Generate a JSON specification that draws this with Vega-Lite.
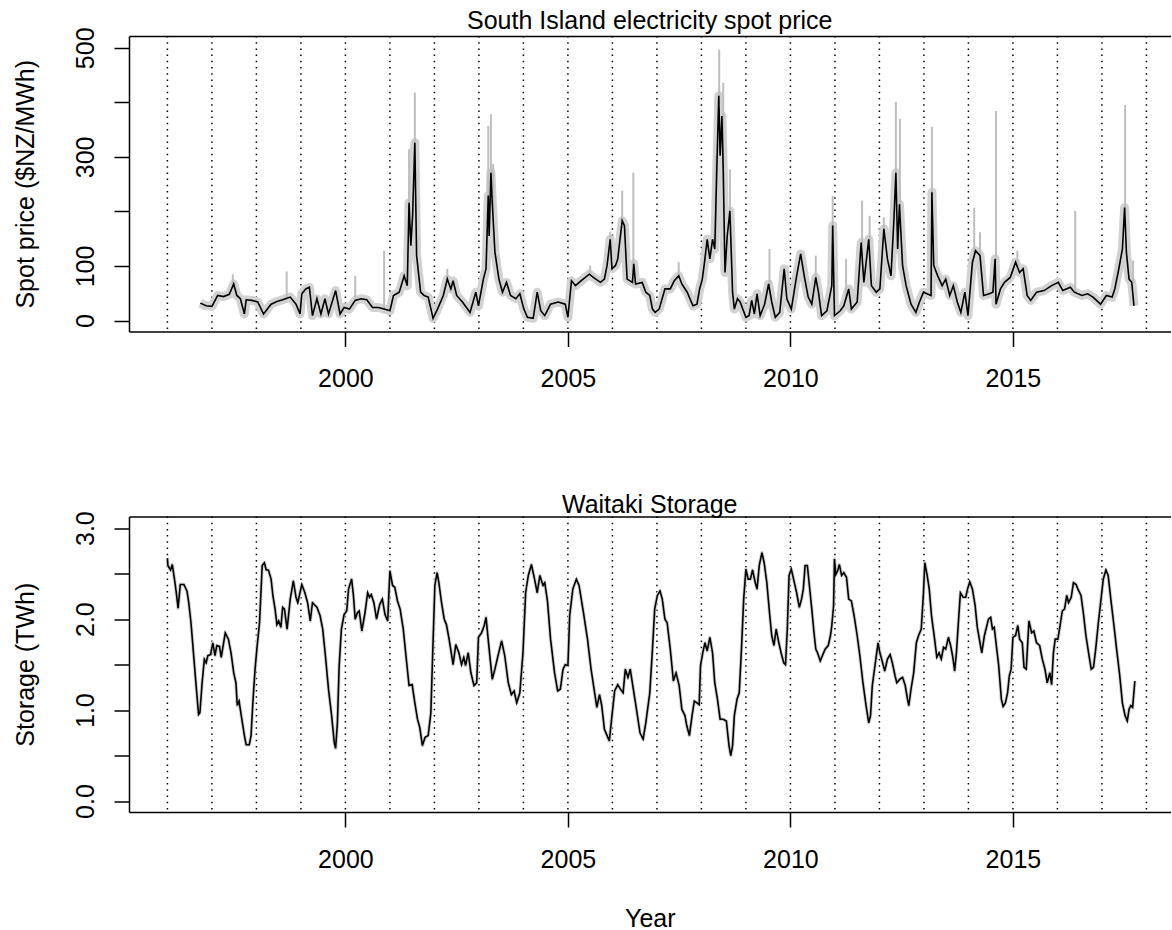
{
  "$schema": "https://vega.github.io/schema/vega-lite/v6.json",
  "autosize": {"type": "pad"},
  "padding": {"left": 13, "top": 8, "right": 0, "bottom": 0},
  "background": "white",
  "config": {
    "view": {"stroke": null},
    "font": "Liberation Sans",
    "title": {"font": "Liberation Sans", "fontSize": 25, "fontWeight": "normal", "color": "black", "anchor": "middle", "frame": "group", "offset": -7, "baseline": "alphabetic"},
    "axis": {
      "labelFont": "Liberation Sans", "titleFont": "Liberation Sans",
      "labelFontSize": 25, "titleFontSize": 25, "titleFontWeight": "normal",
      "labelColor": "black", "titleColor": "black",
      "domainColor": "black", "tickColor": "black", "domainWidth": 1.5, "tickWidth": 1.5,
      "tickSize": 15, "grid": false, "labelOverlap": false, "labelFlush": false, "labelBound": false
    }
  },
  "datasets": {
    "years": [
      {"year": 1996}, {"year": 1997}, {"year": 1998}, {"year": 1999}, {"year": 2000}, {"year": 2001},
      {"year": 2002}, {"year": 2003}, {"year": 2004}, {"year": 2005}, {"year": 2006}, {"year": 2007},
      {"year": 2008}, {"year": 2009}, {"year": 2010}, {"year": 2011}, {"year": 2012}, {"year": 2013},
      {"year": 2014}, {"year": 2015}, {"year": 2016}, {"year": 2017}, {"year": 2018}
    ],
    "price": [
      {"year": 1996.74, "price": 32}, {"year": 1996.87, "price": 27}, {"year": 1997.00, "price": 26},
      {"year": 1997.13, "price": 46}, {"year": 1997.26, "price": 44}, {"year": 1997.39, "price": 48},
      {"year": 1997.49, "price": 67}, {"year": 1997.56, "price": 46}, {"year": 1997.64, "price": 40},
      {"year": 1997.73, "price": 12}, {"year": 1997.77, "price": 38}, {"year": 1997.90, "price": 37},
      {"year": 1998.03, "price": 34}, {"year": 1998.16, "price": 12}, {"year": 1998.33, "price": 30},
      {"year": 1998.46, "price": 35}, {"year": 1998.59, "price": 38}, {"year": 1998.76, "price": 43},
      {"year": 1998.89, "price": 30}, {"year": 1998.98, "price": 12}, {"year": 1999.02, "price": 49},
      {"year": 1999.11, "price": 58}, {"year": 1999.19, "price": 61}, {"year": 1999.26, "price": 9},
      {"year": 1999.36, "price": 40}, {"year": 1999.45, "price": 12}, {"year": 1999.54, "price": 40},
      {"year": 1999.62, "price": 12}, {"year": 1999.78, "price": 55}, {"year": 1999.88, "price": 12},
      {"year": 1999.97, "price": 24}, {"year": 2000.09, "price": 21}, {"year": 2000.22, "price": 37},
      {"year": 2000.35, "price": 40}, {"year": 2000.48, "price": 38}, {"year": 2000.61, "price": 24},
      {"year": 2000.74, "price": 24}, {"year": 2000.87, "price": 21}, {"year": 2001.00, "price": 18},
      {"year": 2001.08, "price": 46}, {"year": 2001.21, "price": 52}, {"year": 2001.32, "price": 82},
      {"year": 2001.39, "price": 64}, {"year": 2001.43, "price": 216}, {"year": 2001.47, "price": 137},
      {"year": 2001.51, "price": 192}, {"year": 2001.56, "price": 326}, {"year": 2001.60, "price": 119},
      {"year": 2001.69, "price": 52}, {"year": 2001.77, "price": 46}, {"year": 2001.86, "price": 43},
      {"year": 2001.97, "price": 4}, {"year": 2002.07, "price": 21}, {"year": 2002.20, "price": 46},
      {"year": 2002.29, "price": 76}, {"year": 2002.37, "price": 58}, {"year": 2002.42, "price": 73},
      {"year": 2002.50, "price": 46}, {"year": 2002.63, "price": 34}, {"year": 2002.80, "price": 15},
      {"year": 2002.93, "price": 52}, {"year": 2002.99, "price": 27}, {"year": 2003.10, "price": 76},
      {"year": 2003.16, "price": 95}, {"year": 2003.21, "price": 229}, {"year": 2003.23, "price": 155},
      {"year": 2003.27, "price": 271}, {"year": 2003.30, "price": 216}, {"year": 2003.36, "price": 125},
      {"year": 2003.45, "price": 76}, {"year": 2003.53, "price": 52}, {"year": 2003.62, "price": 70},
      {"year": 2003.71, "price": 46}, {"year": 2003.83, "price": 40}, {"year": 2003.92, "price": 49},
      {"year": 2004.01, "price": 21}, {"year": 2004.09, "price": 6}, {"year": 2004.22, "price": 4},
      {"year": 2004.31, "price": 52}, {"year": 2004.39, "price": 18}, {"year": 2004.48, "price": 9},
      {"year": 2004.61, "price": 30}, {"year": 2004.78, "price": 34}, {"year": 2004.94, "price": 30},
      {"year": 2005.00, "price": 6}, {"year": 2005.08, "price": 73}, {"year": 2005.17, "price": 64},
      {"year": 2005.30, "price": 73}, {"year": 2005.48, "price": 85}, {"year": 2005.61, "price": 77},
      {"year": 2005.73, "price": 70}, {"year": 2005.82, "price": 76}, {"year": 2005.88, "price": 101},
      {"year": 2005.95, "price": 149}, {"year": 2005.99, "price": 95}, {"year": 2006.07, "price": 101},
      {"year": 2006.12, "price": 113}, {"year": 2006.22, "price": 183}, {"year": 2006.27, "price": 174},
      {"year": 2006.33, "price": 76}, {"year": 2006.45, "price": 70}, {"year": 2006.48, "price": 104},
      {"year": 2006.52, "price": 67}, {"year": 2006.67, "price": 70}, {"year": 2006.75, "price": 52},
      {"year": 2006.84, "price": 46}, {"year": 2006.90, "price": 21}, {"year": 2006.96, "price": 15},
      {"year": 2007.05, "price": 21}, {"year": 2007.18, "price": 58}, {"year": 2007.30, "price": 58},
      {"year": 2007.39, "price": 73}, {"year": 2007.49, "price": 82}, {"year": 2007.56, "price": 67},
      {"year": 2007.68, "price": 52}, {"year": 2007.81, "price": 27}, {"year": 2007.90, "price": 30},
      {"year": 2007.96, "price": 58}, {"year": 2008.02, "price": 76}, {"year": 2008.07, "price": 107},
      {"year": 2008.13, "price": 149}, {"year": 2008.19, "price": 113}, {"year": 2008.25, "price": 149},
      {"year": 2008.30, "price": 131}, {"year": 2008.34, "price": 259}, {"year": 2008.39, "price": 412},
      {"year": 2008.42, "price": 302}, {"year": 2008.46, "price": 375}, {"year": 2008.49, "price": 277},
      {"year": 2008.53, "price": 88}, {"year": 2008.58, "price": 155}, {"year": 2008.64, "price": 201},
      {"year": 2008.70, "price": 52}, {"year": 2008.74, "price": 21}, {"year": 2008.81, "price": 40},
      {"year": 2008.87, "price": 34}, {"year": 2008.93, "price": 21}, {"year": 2009.00, "price": 6},
      {"year": 2009.07, "price": 9}, {"year": 2009.13, "price": 37}, {"year": 2009.19, "price": 12},
      {"year": 2009.25, "price": 49}, {"year": 2009.32, "price": 9}, {"year": 2009.42, "price": 30},
      {"year": 2009.51, "price": 67}, {"year": 2009.58, "price": 34}, {"year": 2009.66, "price": 6},
      {"year": 2009.76, "price": 15}, {"year": 2009.86, "price": 95}, {"year": 2009.92, "price": 40},
      {"year": 2010.02, "price": 21}, {"year": 2010.14, "price": 82}, {"year": 2010.23, "price": 122},
      {"year": 2010.31, "price": 82}, {"year": 2010.40, "price": 43}, {"year": 2010.48, "price": 30},
      {"year": 2010.57, "price": 79}, {"year": 2010.63, "price": 52}, {"year": 2010.70, "price": 9},
      {"year": 2010.82, "price": 18}, {"year": 2010.93, "price": 64}, {"year": 2010.95, "price": 174},
      {"year": 2010.99, "price": 9}, {"year": 2011.12, "price": 18}, {"year": 2011.20, "price": 27},
      {"year": 2011.31, "price": 58}, {"year": 2011.37, "price": 21}, {"year": 2011.50, "price": 34},
      {"year": 2011.59, "price": 143}, {"year": 2011.65, "price": 70}, {"year": 2011.76, "price": 149},
      {"year": 2011.82, "price": 64}, {"year": 2011.93, "price": 52}, {"year": 2012.01, "price": 58},
      {"year": 2012.10, "price": 168}, {"year": 2012.18, "price": 113}, {"year": 2012.26, "price": 82},
      {"year": 2012.33, "price": 192}, {"year": 2012.37, "price": 271}, {"year": 2012.41, "price": 131},
      {"year": 2012.45, "price": 213}, {"year": 2012.52, "price": 101}, {"year": 2012.60, "price": 64},
      {"year": 2012.71, "price": 30}, {"year": 2012.82, "price": 15}, {"year": 2012.90, "price": 34},
      {"year": 2012.99, "price": 52}, {"year": 2013.07, "price": 49}, {"year": 2013.16, "price": 46},
      {"year": 2013.18, "price": 235}, {"year": 2013.22, "price": 101}, {"year": 2013.31, "price": 82},
      {"year": 2013.41, "price": 64}, {"year": 2013.49, "price": 76}, {"year": 2013.58, "price": 46},
      {"year": 2013.66, "price": 64}, {"year": 2013.75, "price": 34}, {"year": 2013.83, "price": 15},
      {"year": 2013.92, "price": 52}, {"year": 2013.99, "price": 9}, {"year": 2014.09, "price": 107},
      {"year": 2014.16, "price": 128}, {"year": 2014.26, "price": 119}, {"year": 2014.34, "price": 46},
      {"year": 2014.47, "price": 49}, {"year": 2014.55, "price": 52}, {"year": 2014.60, "price": 113},
      {"year": 2014.62, "price": 30}, {"year": 2014.72, "price": 58}, {"year": 2014.81, "price": 70},
      {"year": 2014.94, "price": 79}, {"year": 2015.06, "price": 107}, {"year": 2015.15, "price": 88},
      {"year": 2015.23, "price": 95}, {"year": 2015.32, "price": 46}, {"year": 2015.40, "price": 37},
      {"year": 2015.53, "price": 52}, {"year": 2015.70, "price": 55}, {"year": 2015.87, "price": 64},
      {"year": 2016.02, "price": 70}, {"year": 2016.12, "price": 55}, {"year": 2016.29, "price": 61},
      {"year": 2016.38, "price": 52}, {"year": 2016.55, "price": 46}, {"year": 2016.68, "price": 49},
      {"year": 2016.80, "price": 43}, {"year": 2016.97, "price": 30}, {"year": 2017.10, "price": 46},
      {"year": 2017.23, "price": 43}, {"year": 2017.29, "price": 58}, {"year": 2017.38, "price": 95},
      {"year": 2017.46, "price": 131}, {"year": 2017.51, "price": 207}, {"year": 2017.55, "price": 125},
      {"year": 2017.61, "price": 76}, {"year": 2017.67, "price": 70}, {"year": 2017.72, "price": 27}
    ],
    "spikes": [
      {"year": 1997.47, "base": 60, "peak": 85}, {"year": 1998.68, "base": 40, "peak": 90},
      {"year": 2000.22, "base": 37, "peak": 82}, {"year": 2000.87, "base": 21, "peak": 128},
      {"year": 2001.43, "base": 200, "peak": 314}, {"year": 2001.56, "base": 300, "peak": 418},
      {"year": 2002.29, "base": 76, "peak": 95}, {"year": 2003.21, "base": 220, "peak": 357},
      {"year": 2003.27, "base": 260, "peak": 378}, {"year": 2003.32, "base": 200, "peak": 287},
      {"year": 2003.40, "base": 100, "peak": 119}, {"year": 2005.50, "base": 85, "peak": 101},
      {"year": 2005.95, "base": 140, "peak": 162}, {"year": 2006.22, "base": 180, "peak": 238},
      {"year": 2006.47, "base": 100, "peak": 271}, {"year": 2007.49, "base": 82, "peak": 107},
      {"year": 2008.32, "base": 140, "peak": 302}, {"year": 2008.40, "base": 400, "peak": 497},
      {"year": 2008.49, "base": 280, "peak": 436}, {"year": 2008.64, "base": 200, "peak": 277},
      {"year": 2009.53, "base": 60, "peak": 131}, {"year": 2010.57, "base": 79, "peak": 119},
      {"year": 2010.95, "base": 170, "peak": 229}, {"year": 2011.25, "base": 40, "peak": 113},
      {"year": 2011.61, "base": 140, "peak": 220}, {"year": 2011.78, "base": 145, "peak": 192},
      {"year": 2012.10, "base": 165, "peak": 189}, {"year": 2012.37, "base": 270, "peak": 401},
      {"year": 2012.46, "base": 210, "peak": 370}, {"year": 2013.18, "base": 230, "peak": 355},
      {"year": 2014.13, "base": 115, "peak": 207}, {"year": 2014.26, "base": 119, "peak": 162},
      {"year": 2014.62, "base": 110, "peak": 384}, {"year": 2015.10, "base": 100, "peak": 128},
      {"year": 2016.40, "base": 52, "peak": 201}, {"year": 2017.52, "base": 200, "peak": 395},
      {"year": 2017.70, "base": 70, "peak": 110}
    ],
    "storage": [
      {"year": 1996.00, "storage": 2.67}, {"year": 1996.01, "storage": 2.59}, {"year": 1996.07, "storage": 2.54},
      {"year": 1996.11, "storage": 2.60}, {"year": 1996.17, "storage": 2.40}, {"year": 1996.20, "storage": 2.29},
      {"year": 1996.24, "storage": 2.12}, {"year": 1996.29, "storage": 2.38}, {"year": 1996.37, "storage": 2.38},
      {"year": 1996.44, "storage": 2.31}, {"year": 1996.48, "storage": 2.18}, {"year": 1996.53, "storage": 1.96},
      {"year": 1996.59, "storage": 1.60}, {"year": 1996.64, "storage": 1.30}, {"year": 1996.70, "storage": 0.95},
      {"year": 1996.73, "storage": 0.97}, {"year": 1996.78, "storage": 1.30}, {"year": 1996.83, "storage": 1.56},
      {"year": 1996.87, "storage": 1.52}, {"year": 1996.91, "storage": 1.60}, {"year": 1996.97, "storage": 1.61},
      {"year": 1997.02, "storage": 1.74}, {"year": 1997.07, "storage": 1.60}, {"year": 1997.11, "storage": 1.71},
      {"year": 1997.17, "storage": 1.70}, {"year": 1997.21, "storage": 1.58}, {"year": 1997.30, "storage": 1.85},
      {"year": 1997.37, "storage": 1.78}, {"year": 1997.43, "storage": 1.63}, {"year": 1997.49, "storage": 1.41},
      {"year": 1997.54, "storage": 1.30}, {"year": 1997.57, "storage": 1.05}, {"year": 1997.61, "storage": 1.10},
      {"year": 1997.66, "storage": 0.94}, {"year": 1997.73, "storage": 0.72}, {"year": 1997.77, "storage": 0.62},
      {"year": 1997.84, "storage": 0.62}, {"year": 1997.88, "storage": 0.72}, {"year": 1997.92, "storage": 1.08},
      {"year": 1997.97, "storage": 1.45}, {"year": 1998.01, "storage": 1.67}, {"year": 1998.07, "storage": 1.96},
      {"year": 1998.13, "storage": 2.59}, {"year": 1998.18, "storage": 2.62}, {"year": 1998.22, "storage": 2.54},
      {"year": 1998.27, "storage": 2.54}, {"year": 1998.33, "storage": 2.44}, {"year": 1998.37, "storage": 2.26},
      {"year": 1998.42, "storage": 2.11}, {"year": 1998.46, "storage": 1.94}, {"year": 1998.50, "storage": 1.98},
      {"year": 1998.55, "storage": 1.91}, {"year": 1998.59, "storage": 2.13}, {"year": 1998.63, "storage": 2.11},
      {"year": 1998.69, "storage": 1.89}, {"year": 1998.76, "storage": 2.22}, {"year": 1998.83, "storage": 2.42},
      {"year": 1998.89, "storage": 2.24}, {"year": 1998.93, "storage": 2.18}, {"year": 1999.02, "storage": 2.38},
      {"year": 1999.09, "storage": 2.29}, {"year": 1999.15, "storage": 2.18}, {"year": 1999.21, "storage": 1.98},
      {"year": 1999.26, "storage": 2.18}, {"year": 1999.32, "storage": 2.15}, {"year": 1999.36, "storage": 2.13},
      {"year": 1999.43, "storage": 2.04}, {"year": 1999.49, "storage": 1.89}, {"year": 1999.55, "storage": 1.60},
      {"year": 1999.62, "storage": 1.23}, {"year": 1999.69, "storage": 0.94}, {"year": 1999.75, "storage": 0.64},
      {"year": 1999.78, "storage": 0.58}, {"year": 1999.82, "storage": 0.86}, {"year": 1999.86, "storage": 1.49},
      {"year": 1999.91, "storage": 1.89}, {"year": 1999.97, "storage": 2.05}, {"year": 2000.03, "storage": 2.09},
      {"year": 2000.07, "storage": 2.33}, {"year": 2000.14, "storage": 2.44}, {"year": 2000.18, "storage": 2.26},
      {"year": 2000.22, "storage": 2.00}, {"year": 2000.27, "storage": 2.07}, {"year": 2000.31, "storage": 2.09},
      {"year": 2000.37, "storage": 1.87}, {"year": 2000.44, "storage": 2.07}, {"year": 2000.50, "storage": 2.29},
      {"year": 2000.54, "storage": 2.24}, {"year": 2000.58, "storage": 2.27}, {"year": 2000.64, "storage": 2.18},
      {"year": 2000.70, "storage": 2.00}, {"year": 2000.77, "storage": 2.16}, {"year": 2000.83, "storage": 2.22},
      {"year": 2000.89, "storage": 2.05}, {"year": 2000.95, "storage": 1.98}, {"year": 2001.00, "storage": 2.53},
      {"year": 2001.06, "storage": 2.37}, {"year": 2001.11, "storage": 2.35}, {"year": 2001.17, "storage": 2.20},
      {"year": 2001.23, "storage": 2.11}, {"year": 2001.30, "storage": 1.89}, {"year": 2001.36, "storage": 1.60},
      {"year": 2001.43, "storage": 1.27}, {"year": 2001.50, "storage": 1.28}, {"year": 2001.56, "storage": 1.08},
      {"year": 2001.62, "storage": 0.90}, {"year": 2001.67, "storage": 0.81}, {"year": 2001.73, "storage": 0.61},
      {"year": 2001.79, "storage": 0.70}, {"year": 2001.86, "storage": 0.72}, {"year": 2001.92, "storage": 0.97},
      {"year": 2001.96, "storage": 1.60}, {"year": 2002.01, "storage": 2.37}, {"year": 2002.06, "storage": 2.51},
      {"year": 2002.10, "storage": 2.40}, {"year": 2002.16, "storage": 2.18}, {"year": 2002.22, "storage": 2.00},
      {"year": 2002.27, "storage": 1.94}, {"year": 2002.33, "storage": 1.78}, {"year": 2002.42, "storage": 1.50},
      {"year": 2002.48, "storage": 1.72}, {"year": 2002.55, "storage": 1.63}, {"year": 2002.61, "storage": 1.50},
      {"year": 2002.66, "storage": 1.58}, {"year": 2002.70, "storage": 1.49}, {"year": 2002.76, "storage": 1.63},
      {"year": 2002.82, "storage": 1.41}, {"year": 2002.89, "storage": 1.27}, {"year": 2002.95, "storage": 1.30},
      {"year": 2002.99, "storage": 1.80}, {"year": 2003.06, "storage": 1.85}, {"year": 2003.12, "storage": 1.93},
      {"year": 2003.16, "storage": 2.02}, {"year": 2003.23, "storage": 1.67}, {"year": 2003.30, "storage": 1.34},
      {"year": 2003.36, "storage": 1.45}, {"year": 2003.43, "storage": 1.60}, {"year": 2003.51, "storage": 1.76},
      {"year": 2003.58, "storage": 1.60}, {"year": 2003.66, "storage": 1.30}, {"year": 2003.73, "storage": 1.17},
      {"year": 2003.79, "storage": 1.21}, {"year": 2003.85, "storage": 1.08}, {"year": 2003.92, "storage": 1.19},
      {"year": 2003.99, "storage": 1.63}, {"year": 2004.05, "storage": 2.29}, {"year": 2004.11, "storage": 2.48},
      {"year": 2004.18, "storage": 2.60}, {"year": 2004.25, "storage": 2.44}, {"year": 2004.31, "storage": 2.29},
      {"year": 2004.37, "storage": 2.48}, {"year": 2004.44, "storage": 2.37}, {"year": 2004.48, "storage": 2.40},
      {"year": 2004.54, "storage": 2.20}, {"year": 2004.61, "storage": 1.78}, {"year": 2004.70, "storage": 1.41},
      {"year": 2004.77, "storage": 1.21}, {"year": 2004.83, "storage": 1.23}, {"year": 2004.89, "storage": 1.45},
      {"year": 2004.94, "storage": 1.50}, {"year": 2005.00, "storage": 1.49}, {"year": 2005.04, "storage": 2.04},
      {"year": 2005.11, "storage": 2.33}, {"year": 2005.19, "storage": 2.44}, {"year": 2005.25, "storage": 2.37},
      {"year": 2005.35, "storage": 2.07}, {"year": 2005.44, "storage": 1.78}, {"year": 2005.52, "storage": 1.45},
      {"year": 2005.61, "storage": 1.16}, {"year": 2005.65, "storage": 1.03}, {"year": 2005.71, "storage": 1.17},
      {"year": 2005.76, "storage": 1.05}, {"year": 2005.82, "storage": 0.79}, {"year": 2005.88, "storage": 0.72},
      {"year": 2005.93, "storage": 0.66}, {"year": 2005.99, "storage": 0.94}, {"year": 2006.05, "storage": 1.21},
      {"year": 2006.12, "storage": 1.28}, {"year": 2006.18, "storage": 1.23}, {"year": 2006.24, "storage": 1.19},
      {"year": 2006.29, "storage": 1.45}, {"year": 2006.35, "storage": 1.36}, {"year": 2006.40, "storage": 1.45},
      {"year": 2006.47, "storage": 1.23}, {"year": 2006.54, "storage": 1.01}, {"year": 2006.62, "storage": 0.75},
      {"year": 2006.69, "storage": 0.68}, {"year": 2006.75, "storage": 0.86}, {"year": 2006.84, "storage": 1.19},
      {"year": 2006.90, "storage": 1.67}, {"year": 2006.95, "storage": 2.11}, {"year": 2007.01, "storage": 2.26},
      {"year": 2007.07, "storage": 2.31}, {"year": 2007.12, "storage": 2.22}, {"year": 2007.18, "storage": 2.00},
      {"year": 2007.23, "storage": 1.96}, {"year": 2007.30, "storage": 1.67}, {"year": 2007.37, "storage": 1.32},
      {"year": 2007.43, "storage": 1.41}, {"year": 2007.50, "storage": 1.27}, {"year": 2007.56, "storage": 1.01},
      {"year": 2007.63, "storage": 0.94}, {"year": 2007.67, "storage": 0.83}, {"year": 2007.73, "storage": 0.72},
      {"year": 2007.79, "storage": 0.94}, {"year": 2007.84, "storage": 1.10}, {"year": 2007.90, "storage": 1.08},
      {"year": 2007.95, "storage": 1.06}, {"year": 2007.98, "storage": 1.49}, {"year": 2008.03, "storage": 1.63},
      {"year": 2008.08, "storage": 1.74}, {"year": 2008.13, "storage": 1.65}, {"year": 2008.19, "storage": 1.80},
      {"year": 2008.25, "storage": 1.63}, {"year": 2008.30, "storage": 1.30}, {"year": 2008.36, "storage": 1.12},
      {"year": 2008.42, "storage": 0.90}, {"year": 2008.49, "storage": 0.90}, {"year": 2008.56, "storage": 0.88},
      {"year": 2008.62, "storage": 0.61}, {"year": 2008.66, "storage": 0.50}, {"year": 2008.70, "storage": 0.61},
      {"year": 2008.74, "storage": 0.94}, {"year": 2008.80, "storage": 1.12}, {"year": 2008.85, "storage": 1.19},
      {"year": 2008.90, "storage": 1.67}, {"year": 2008.95, "storage": 2.22}, {"year": 2009.00, "storage": 2.55},
      {"year": 2009.05, "storage": 2.44}, {"year": 2009.10, "storage": 2.44}, {"year": 2009.15, "storage": 2.54},
      {"year": 2009.21, "storage": 2.40}, {"year": 2009.25, "storage": 2.33}, {"year": 2009.30, "storage": 2.59},
      {"year": 2009.36, "storage": 2.73}, {"year": 2009.41, "storage": 2.62}, {"year": 2009.47, "storage": 2.40},
      {"year": 2009.53, "storage": 2.07}, {"year": 2009.58, "storage": 1.82}, {"year": 2009.63, "storage": 1.71},
      {"year": 2009.68, "storage": 1.89}, {"year": 2009.74, "storage": 1.74}, {"year": 2009.79, "storage": 1.63},
      {"year": 2009.85, "storage": 1.52}, {"year": 2009.89, "storage": 1.50}, {"year": 2009.93, "storage": 1.89},
      {"year": 2009.97, "storage": 2.48}, {"year": 2010.02, "storage": 2.55}, {"year": 2010.08, "storage": 2.42},
      {"year": 2010.14, "storage": 2.29}, {"year": 2010.20, "storage": 2.13}, {"year": 2010.25, "storage": 2.22},
      {"year": 2010.29, "storage": 2.33}, {"year": 2010.33, "storage": 2.59}, {"year": 2010.38, "storage": 2.59},
      {"year": 2010.42, "storage": 2.40}, {"year": 2010.48, "storage": 2.11}, {"year": 2010.53, "storage": 1.85},
      {"year": 2010.57, "storage": 1.67}, {"year": 2010.61, "storage": 1.63}, {"year": 2010.67, "storage": 1.54},
      {"year": 2010.72, "storage": 1.60}, {"year": 2010.78, "storage": 1.67}, {"year": 2010.85, "storage": 1.71},
      {"year": 2010.90, "storage": 1.82}, {"year": 2010.93, "storage": 1.93}, {"year": 2010.97, "storage": 2.15},
      {"year": 2010.99, "storage": 2.66}, {"year": 2011.02, "storage": 2.49}, {"year": 2011.06, "storage": 2.53},
      {"year": 2011.10, "storage": 2.60}, {"year": 2011.15, "storage": 2.48}, {"year": 2011.20, "storage": 2.51},
      {"year": 2011.26, "storage": 2.46}, {"year": 2011.31, "storage": 2.22}, {"year": 2011.37, "storage": 2.20},
      {"year": 2011.43, "storage": 2.04}, {"year": 2011.50, "storage": 1.82}, {"year": 2011.56, "storage": 1.60},
      {"year": 2011.63, "storage": 1.30}, {"year": 2011.70, "storage": 1.05}, {"year": 2011.76, "storage": 0.86},
      {"year": 2011.80, "storage": 0.94}, {"year": 2011.84, "storage": 1.27}, {"year": 2011.90, "storage": 1.49},
      {"year": 2011.97, "storage": 1.74}, {"year": 2012.01, "storage": 1.63}, {"year": 2012.05, "storage": 1.56},
      {"year": 2012.12, "storage": 1.43}, {"year": 2012.18, "storage": 1.56}, {"year": 2012.24, "storage": 1.61},
      {"year": 2012.29, "storage": 1.52}, {"year": 2012.35, "storage": 1.38}, {"year": 2012.39, "storage": 1.30},
      {"year": 2012.46, "storage": 1.34}, {"year": 2012.52, "storage": 1.36}, {"year": 2012.58, "storage": 1.27},
      {"year": 2012.63, "storage": 1.12}, {"year": 2012.66, "storage": 1.05}, {"year": 2012.71, "storage": 1.23},
      {"year": 2012.77, "storage": 1.41}, {"year": 2012.83, "storage": 1.74}, {"year": 2012.88, "storage": 1.82},
      {"year": 2012.94, "storage": 1.89}, {"year": 2012.99, "storage": 2.29}, {"year": 2013.02, "storage": 2.62},
      {"year": 2013.07, "storage": 2.49}, {"year": 2013.12, "storage": 2.33}, {"year": 2013.17, "storage": 2.04},
      {"year": 2013.24, "storage": 1.78}, {"year": 2013.29, "storage": 1.58}, {"year": 2013.34, "storage": 1.63},
      {"year": 2013.39, "storage": 1.56}, {"year": 2013.44, "storage": 1.69}, {"year": 2013.49, "storage": 1.67},
      {"year": 2013.55, "storage": 1.80}, {"year": 2013.60, "storage": 1.71}, {"year": 2013.65, "storage": 1.58},
      {"year": 2013.69, "storage": 1.43}, {"year": 2013.73, "storage": 1.63}, {"year": 2013.77, "storage": 1.93},
      {"year": 2013.82, "storage": 2.29}, {"year": 2013.88, "storage": 2.24}, {"year": 2013.94, "storage": 2.24},
      {"year": 2013.98, "storage": 2.33}, {"year": 2014.03, "storage": 2.41}, {"year": 2014.09, "storage": 2.33},
      {"year": 2014.15, "storage": 2.15}, {"year": 2014.20, "storage": 1.91}, {"year": 2014.26, "storage": 1.74},
      {"year": 2014.30, "storage": 1.63}, {"year": 2014.36, "storage": 1.82}, {"year": 2014.42, "storage": 1.94},
      {"year": 2014.45, "storage": 2.00}, {"year": 2014.50, "storage": 2.02}, {"year": 2014.54, "storage": 1.89},
      {"year": 2014.58, "storage": 1.91}, {"year": 2014.62, "storage": 1.74}, {"year": 2014.68, "storage": 1.49},
      {"year": 2014.74, "storage": 1.12}, {"year": 2014.78, "storage": 1.04}, {"year": 2014.83, "storage": 1.08},
      {"year": 2014.88, "storage": 1.19}, {"year": 2014.92, "storage": 1.38}, {"year": 2014.96, "storage": 1.45},
      {"year": 2015.00, "storage": 1.80}, {"year": 2015.06, "storage": 1.82}, {"year": 2015.11, "storage": 1.93},
      {"year": 2015.15, "storage": 1.78}, {"year": 2015.21, "storage": 1.74}, {"year": 2015.25, "storage": 1.47},
      {"year": 2015.30, "storage": 1.45}, {"year": 2015.36, "storage": 1.98}, {"year": 2015.42, "storage": 1.85},
      {"year": 2015.47, "storage": 1.87}, {"year": 2015.53, "storage": 1.74}, {"year": 2015.60, "storage": 1.71},
      {"year": 2015.66, "storage": 1.56}, {"year": 2015.72, "storage": 1.45}, {"year": 2015.77, "storage": 1.30},
      {"year": 2015.83, "storage": 1.41}, {"year": 2015.87, "storage": 1.28}, {"year": 2015.91, "storage": 1.63},
      {"year": 2015.95, "storage": 1.78}, {"year": 2016.01, "storage": 1.78}, {"year": 2016.06, "storage": 1.93},
      {"year": 2016.11, "storage": 2.09}, {"year": 2016.16, "storage": 2.11}, {"year": 2016.21, "storage": 2.26},
      {"year": 2016.25, "storage": 2.18}, {"year": 2016.31, "storage": 2.24}, {"year": 2016.36, "storage": 2.40},
      {"year": 2016.42, "storage": 2.38}, {"year": 2016.46, "storage": 2.33}, {"year": 2016.53, "storage": 2.26},
      {"year": 2016.59, "storage": 2.04}, {"year": 2016.64, "storage": 1.82}, {"year": 2016.71, "storage": 1.60},
      {"year": 2016.76, "storage": 1.45}, {"year": 2016.81, "storage": 1.47}, {"year": 2016.86, "storage": 1.67},
      {"year": 2016.92, "storage": 1.96}, {"year": 2016.98, "storage": 2.22}, {"year": 2017.03, "storage": 2.44},
      {"year": 2017.09, "storage": 2.54}, {"year": 2017.14, "storage": 2.48}, {"year": 2017.20, "storage": 2.22},
      {"year": 2017.27, "storage": 1.93}, {"year": 2017.33, "storage": 1.67}, {"year": 2017.40, "storage": 1.38},
      {"year": 2017.46, "storage": 1.08}, {"year": 2017.52, "storage": 0.94}, {"year": 2017.57, "storage": 0.88},
      {"year": 2017.61, "storage": 1.01}, {"year": 2017.65, "storage": 1.05}, {"year": 2017.69, "storage": 1.03},
      {"year": 2017.74, "storage": 1.32}
    ]
  },
  "spacing": 184.5,
  "bounds": "flush",
  "vconcat": [
    {
      "width": 1041.5,
      "height": 295.5,
      "title": {"text": "South Island electricity spot price"},
      "layer": [
        {
          "data": {"name": "years"},
          "mark": {"type": "rule", "stroke": "black", "strokeWidth": 1.5, "strokeDash": [1.5, 4.7]},
          "encoding": {
            "x": {"field": "year", "type": "quantitative", "scale": {"domain": [1995.137, 2018.541], "nice": false, "zero": false},
                  "axis": {"orient": "top", "labels": false, "ticks": false, "title": null, "domain": true}}
          }
        },
        {
          "data": {"name": "price"},
          "mark": {"type": "line", "stroke": "#D2D2D2", "strokeWidth": 9, "strokeJoin": "round"},
          "encoding": {
            "x": {"field": "year", "type": "quantitative", "scale": {"domain": [1995.137, 2018.541], "nice": false, "zero": false}, "axis": null},
            "y": {"field": "price", "type": "quantitative", "scale": {"domain": [-20.06, 521.6], "nice": false, "zero": false}, "axis": null}
          }
        },
        {
          "data": {"name": "spikes"},
          "mark": {"type": "rule", "stroke": "#BEBEBE", "strokeWidth": 2},
          "encoding": {
            "x": {"field": "year", "type": "quantitative", "scale": {"domain": [1995.137, 2018.541], "nice": false, "zero": false}, "axis": null},
            "y": {"field": "base", "type": "quantitative", "scale": {"domain": [-20.06, 521.6], "nice": false, "zero": false}, "axis": null},
            "y2": {"field": "peak"}
          }
        },
        {
          "data": {"name": "price"},
          "mark": {"type": "line", "stroke": "black", "strokeWidth": 1.6},
          "encoding": {
            "x": {"field": "year", "type": "quantitative", "scale": {"domain": [1995.137, 2018.541], "nice": false, "zero": false},
                  "axis": {"orient": "bottom", "values": [2000, 2005, 2010, 2015], "format": "d", "labelBaseline": "alphabetic", "labelPadding": 40, "title": null}},
            "y": {"field": "price", "type": "quantitative", "scale": {"domain": [-20.06, 521.6], "nice": false, "zero": false},
                  "axis": {"orient": "left", "values": [0, 100, 200, 300, 400, 500], "labelExpr": "datum.value == 200 || datum.value == 400 ? '' : datum.label",
                           "labelAngle": 270, "labelAlign": "center", "labelBaseline": "alphabetic", "labelPadding": 21,
                           "title": "Spot price ($NZ/MWh)", "titleAngle": 270, "titleAlign": "center", "titleBaseline": "alphabetic", "titleX": -96, "titleY": 147.75}}
          }
        }
      ],
      "resolve": {"axis": {"x": "independent", "y": "independent"}}
    },
    {
      "width": 1041.5,
      "height": 295.5,
      "title": {"text": "Waitaki Storage"},
      "layer": [
        {
          "data": {"name": "years"},
          "mark": {"type": "rule", "stroke": "black", "strokeWidth": 1.5, "strokeDash": [1.5, 4.7]},
          "encoding": {
            "x": {"field": "year", "type": "quantitative", "scale": {"domain": [1995.137, 2018.541], "nice": false, "zero": false},
                  "axis": {"orient": "top", "labels": false, "ticks": false, "title": null, "domain": true}}
          }
        },
        {
          "data": {"name": "storage"},
          "mark": {"type": "line", "stroke": "#D0D0D0", "strokeWidth": 3.5, "strokeJoin": "round"},
          "encoding": {
            "x": {"field": "year", "type": "quantitative", "scale": {"domain": [1995.137, 2018.541], "nice": false, "zero": false}, "axis": null},
            "y": {"field": "storage", "type": "quantitative", "scale": {"domain": [-0.12, 3.128], "nice": false, "zero": false}, "axis": null}
          }
        },
        {
          "data": {"name": "storage"},
          "mark": {"type": "line", "stroke": "black", "strokeWidth": 1.6},
          "encoding": {
            "x": {"field": "year", "type": "quantitative", "scale": {"domain": [1995.137, 2018.541], "nice": false, "zero": false},
                  "axis": {"orient": "bottom", "values": [2000, 2005, 2010, 2015], "format": "d", "labelBaseline": "alphabetic", "labelPadding": 40,
                           "title": "Year", "titleBaseline": "alphabetic", "titleAlign": "center", "titleX": 520.75, "titleY": 114.7}},
            "y": {"field": "storage", "type": "quantitative", "scale": {"domain": [-0.12, 3.128], "nice": false, "zero": false},
                  "axis": {"orient": "left", "values": [0, 0.5, 1, 1.5, 2, 2.5, 3], "format": ".1f", "labelExpr": "datum.value % 1 != 0 ? '' : datum.label",
                           "labelAngle": 270, "labelAlign": "center", "labelBaseline": "alphabetic", "labelPadding": 21,
                           "title": "Storage (TWh)", "titleAngle": 270, "titleAlign": "center", "titleBaseline": "alphabetic", "titleX": -96, "titleY": 147.75}}
          }
        }
      ],
      "resolve": {"axis": {"x": "independent", "y": "independent"}}
    }
  ]
}
